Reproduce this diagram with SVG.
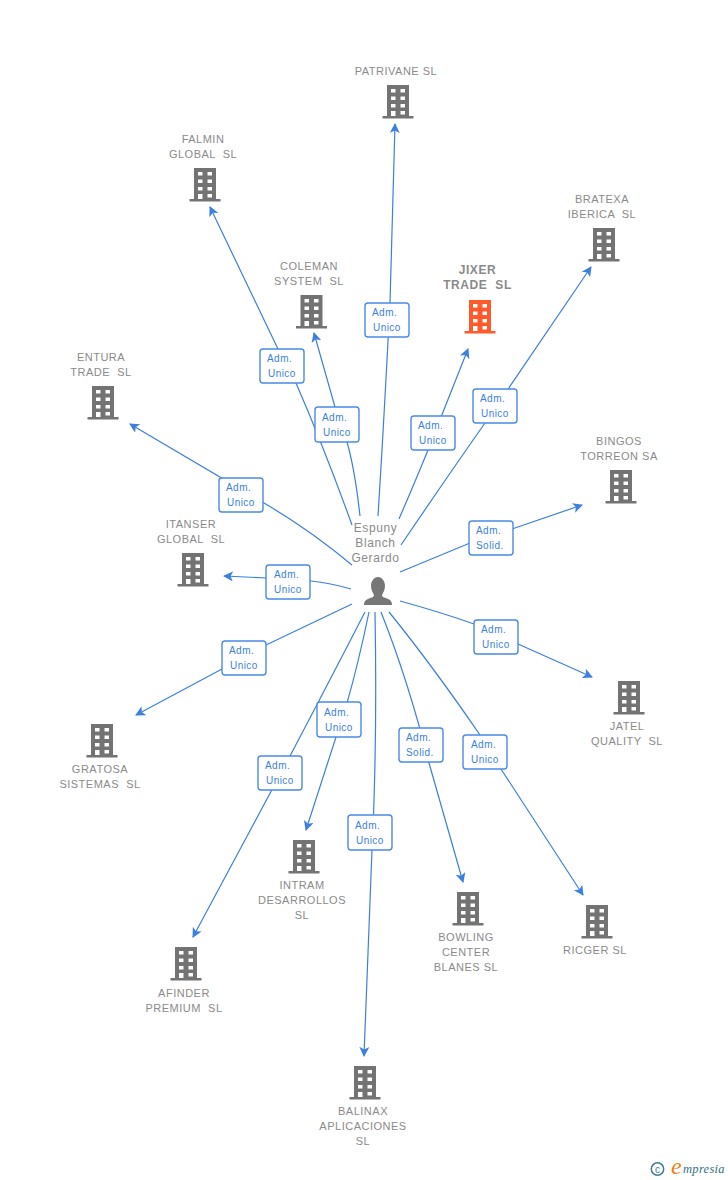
<svg xmlns="http://www.w3.org/2000/svg" width="728" height="1180" viewBox="0 0 728 1180">
<style>
text{font-family:"Liberation Sans",Arial,sans-serif;white-space:pre}
.n{font-size:11px;fill:#8a8a8a;text-anchor:middle;letter-spacing:.5px}
.j{font-size:12px;font-weight:bold;fill:#8a8a8a;text-anchor:middle;letter-spacing:.6px}
.p{font-size:12px;fill:#8a8a8a;text-anchor:middle;letter-spacing:.6px}
.l{font-size:10px;fill:#3b7fe0;letter-spacing:.45px}
.c{fill:none;stroke:#3b7fe0;stroke-width:1.2;marker-end:url(#a)}
.b{fill:#fff;stroke:#4a8ae6;stroke-width:1.4}
.g{fill:#777}
</style>
<defs>
<marker id="a" markerUnits="userSpaceOnUse" markerWidth="12" markerHeight="12" refX="9" refY="5" orient="auto"><path d="M0 0L10 5L0 10L2.500 5Z" fill="#3b7fe0"/></marker>
<symbol id="bld" viewBox="0 0 32 34" width="32" height="34" overflow="visible">
<path fill-rule="evenodd" d="M5 0H27V31H31.500V33.500H0.500V31H5ZM9 4V7.500H13.500V4ZM18.500 4V7.500H23V4ZM9 11.500V15H13.500V11.500ZM18.500 11.500V15H23V11.500ZM9 19V22.500H13.500V19ZM18.500 19V22.500H23V19ZM9 26V31H13.500V26ZM18.500 26V29.500H23V26Z"/>
</symbol>
</defs>
<g id="connectors">
<path class="c" d="M378 516Q384 420 390 303L395 124"/>
<path class="c" d="M352 525Q325 450 296 383Q285 360 278 349L210 207"/>
<path class="c" d="M360 516Q355 470 347 442L335 407L314 333"/>
<path class="c" d="M399 519Q415 482 428 450L468 349"/>
<path class="c" d="M401 545Q445 480 485 423L591 267"/>
<path class="c" d="M352 565Q310 530 264 503L130 424"/>
<path class="c" d="M400 572L470 543L512 529L582 505"/>
<path class="c" d="M351 589Q330 583 311 581L266 578L224 576"/>
<path class="c" d="M400 601Q440 612 474 624L518 644L592 677"/>
<path class="c" d="M352 604L266 645L222 669L136 715"/>
<path class="c" d="M369 612Q358 665 347 703L306 830"/>
<path class="c" d="M381 612Q408 680 429 763L463 882"/>
<path class="c" d="M389 612Q432 665 480 735L501 769L583 895"/>
<path class="c" d="M365 612Q330 680 290 756L193 937"/>
<path class="c" d="M375 612Q377 720 373.500 815L372 850L364 1056"/>
</g>
<g id="person">
<text class="p" x="375.500" y="532">Espuny</text>
<text class="p" x="375.500" y="547">Blanch</text>
<text class="p" x="375.500" y="562">Gerardo</text>
<path class="g" d="M378 577C382 577 385 581 385 586C385 590 383 593 382 595C382 597 384 597.500 387 598.500C390 599.500 392 601 392 605H364C364 601 366 599.500 369 598.500C372 597.500 374 597 374 595C373 593 371 590 371 586C371 581 374 577 378 577Z"/>
</g>
<g id="patrivane"><use href="#bld" x="382" y="85" fill="#737373"/><text class="n" x="396" y="75">PATRIVANE SL</text></g>
<g id="falmin"><use href="#bld" x="189" y="168" fill="#737373"/><text class="n" x="203" y="143">FALMIN</text><text class="n" x="203" y="158">GLOBAL  SL</text></g>
<g id="coleman"><use href="#bld" x="295.500" y="295" fill="#737373"/><text class="n" x="309" y="270">COLEMAN</text><text class="n" x="309" y="285">SYSTEM  SL</text></g>
<g id="jixer"><use href="#bld" x="464" y="300" fill="#ff5a2c"/><text class="j" x="477.500" y="274">JIXER</text><text class="j" x="477.500" y="289">TRADE  SL</text></g>
<g id="bratexa"><use href="#bld" x="588" y="228" fill="#737373"/><text class="n" x="602" y="203">BRATEXA</text><text class="n" x="602" y="218">IBERICA  SL</text></g>
<g id="entura"><use href="#bld" x="87" y="386" fill="#737373"/><text class="n" x="101" y="361">ENTURA</text><text class="n" x="101" y="376">TRADE  SL</text></g>
<g id="bingos"><use href="#bld" x="605" y="470" fill="#737373"/><text class="n" x="619" y="445">BINGOS</text><text class="n" x="619" y="460">TORREON SA</text></g>
<g id="itanser"><use href="#bld" x="177" y="553" fill="#737373"/><text class="n" x="191" y="528">ITANSER</text><text class="n" x="191" y="543">GLOBAL  SL</text></g>
<g id="jatel"><use href="#bld" x="613" y="681" fill="#737373"/><text class="n" x="627" y="730">JATEL</text><text class="n" x="627" y="745">QUALITY  SL</text></g>
<g id="gratosa"><use href="#bld" x="86" y="724" fill="#737373"/><text class="n" x="100" y="773">GRATOSA</text><text class="n" x="100" y="788">SISTEMAS  SL</text></g>
<g id="intram"><use href="#bld" x="288" y="840" fill="#737373"/><text class="n" x="302" y="889">INTRAM</text><text class="n" x="302" y="904">DESARROLLOS</text><text class="n" x="302" y="919">SL</text></g>
<g id="bowling"><use href="#bld" x="452" y="892" fill="#737373"/><text class="n" x="466" y="941">BOWLING</text><text class="n" x="466" y="956">CENTER</text><text class="n" x="466" y="971">BLANES SL</text></g>
<g id="ricger"><use href="#bld" x="581" y="905" fill="#737373"/><text class="n" x="595" y="954">RICGER SL</text></g>
<g id="afinder"><use href="#bld" x="170" y="947" fill="#737373"/><text class="n" x="184" y="997">AFINDER</text><text class="n" x="184" y="1012">PREMIUM  SL</text></g>
<g id="balinax"><use href="#bld" x="349" y="1066" fill="#737373"/><text class="n" x="363" y="1115">BALINAX</text><text class="n" x="363" y="1130">APLICACIONES</text><text class="n" x="363" y="1145">SL</text></g>
<g id="labels">
<g><rect class="b" x="365" y="303" width="44" height="34" rx="3"/><text class="l" x="372" y="316">Adm.</text><text class="l" x="373" y="331">Unico</text></g>
<g><rect class="b" x="260" y="349" width="44" height="34" rx="3"/><text class="l" x="267" y="362">Adm.</text><text class="l" x="268" y="377">Unico</text></g>
<g><rect class="b" x="315" y="407" width="44" height="35" rx="3"/><text class="l" x="322" y="421">Adm.</text><text class="l" x="323" y="436">Unico</text></g>
<g><rect class="b" x="411" y="416" width="44" height="34" rx="3"/><text class="l" x="418" y="429">Adm.</text><text class="l" x="419" y="444">Unico</text></g>
<g><rect class="b" x="473" y="389" width="44" height="34" rx="3"/><text class="l" x="480" y="402">Adm.</text><text class="l" x="481" y="417">Unico</text></g>
<g><rect class="b" x="219" y="478" width="44" height="34" rx="3"/><text class="l" x="226" y="491">Adm.</text><text class="l" x="227" y="506">Unico</text></g>
<g><rect class="b" x="469" y="521" width="44" height="34" rx="3"/><text class="l" x="476" y="534">Adm.</text><text class="l" x="476" y="549">Solid.</text></g>
<g><rect class="b" x="266" y="565" width="44" height="34" rx="3"/><text class="l" x="274" y="578">Adm.</text><text class="l" x="274" y="593">Unico</text></g>
<g><rect class="b" x="474" y="620" width="44" height="34" rx="3"/><text class="l" x="481" y="633">Adm.</text><text class="l" x="482" y="648">Unico</text></g>
<g><rect class="b" x="222" y="641" width="44" height="34" rx="3"/><text class="l" x="229" y="654">Adm.</text><text class="l" x="230" y="669">Unico</text></g>
<g><rect class="b" x="317" y="702" width="44" height="35" rx="3"/><text class="l" x="324" y="716">Adm.</text><text class="l" x="325" y="731">Unico</text></g>
<g><rect class="b" x="399" y="728" width="44" height="34" rx="3"/><text class="l" x="406" y="741">Adm.</text><text class="l" x="406" y="756">Solid.</text></g>
<g><rect class="b" x="463" y="735" width="44" height="34" rx="3"/><text class="l" x="471" y="748">Adm.</text><text class="l" x="471" y="763">Unico</text></g>
<g><rect class="b" x="258" y="756" width="44" height="34" rx="3"/><text class="l" x="265" y="769">Adm.</text><text class="l" x="266" y="784">Unico</text></g>
<g><rect class="b" x="348" y="815" width="44" height="35" rx="3"/><text class="l" x="355" y="829">Adm.</text><text class="l" x="356" y="844">Unico</text></g>
</g>
<g id="brand">
<circle cx="657.500" cy="1169" r="6.200" fill="none" stroke="#3f7f93" stroke-width="1.500"/>
<text x="657.500" y="1172.500" font-size="10" fill="#3f7f93" text-anchor="middle">c</text>
<text x="671" y="1174" style="font-size:24px;font-style:italic;fill:#f08010;font-family:'Liberation Serif',serif">e</text>
<text x="683" y="1173" style="font-size:12.500px;font-style:italic;fill:#2f6f85;font-family:'Liberation Serif',serif;letter-spacing:.3px">mpresia</text>
</g>
</svg>
